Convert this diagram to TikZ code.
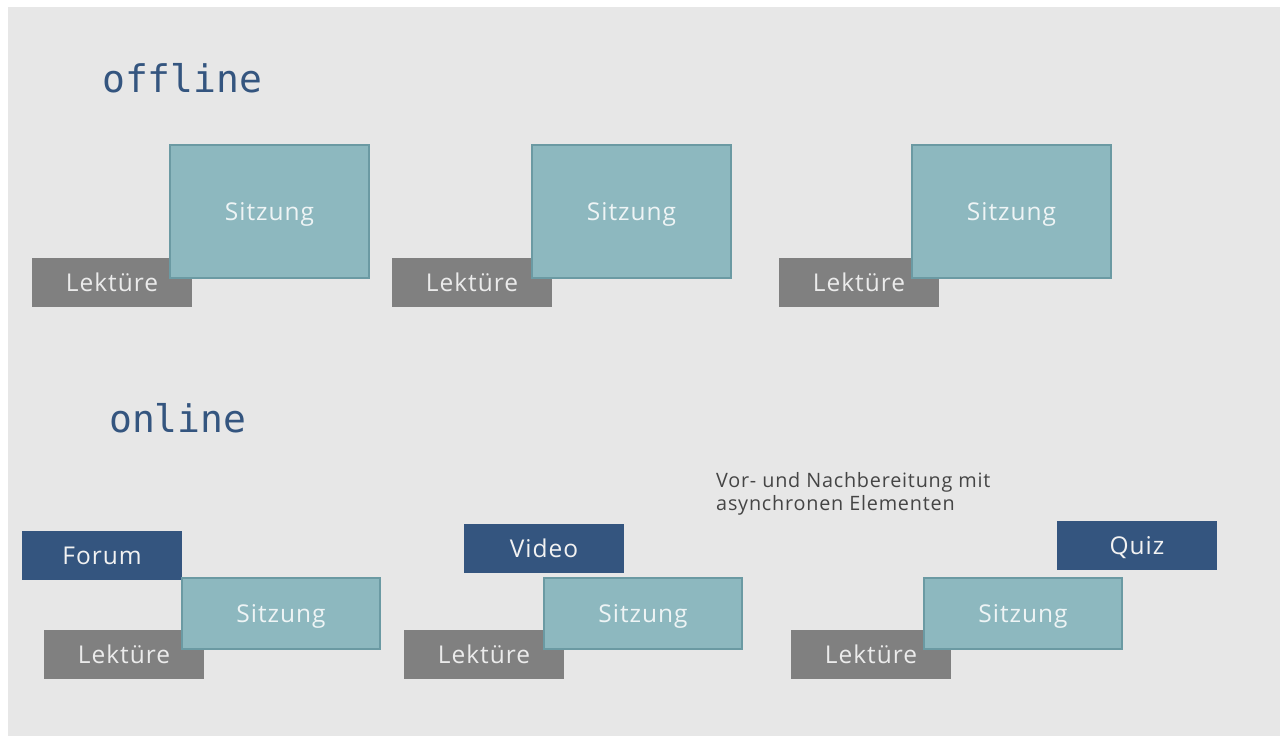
\documentclass[tikz,border=0pt]{standalone}
\usepackage{fontspec}
\setmainfont{Open Sans}
\setmonofont{DejaVu Sans Mono}
\newfontfamily\boxfont[LetterSpace=4]{Open Sans}
\definecolor{slidebg}{HTML}{E7E7E7}
\definecolor{sitzfill}{HTML}{8DB8BF}
\definecolor{sitzline}{HTML}{6B9AA3}
\definecolor{lektgray}{HTML}{808080}
\definecolor{extrablue}{HTML}{34557F}
\definecolor{notegray}{HTML}{454545}
\tikzset{
  box/.style={inner sep=0pt, text height=18.5pt, text depth=0pt,
    font=\boxfont\fontsize{24.5}{24.5}\selectfont},
  sitz/.style={box, fill=sitzfill, draw=sitzline, line width=1.5pt, text=sitzlabel},
  lekt/.style={box, fill=lektgray, minimum width=160pt, minimum height=49pt, text=white!92!black},
  extra/.style={box, fill=extrablue, minimum width=160pt, minimum height=49pt, text=white!95!black},
  heading/.style={anchor=base west, inner sep=0pt, text=extrablue,
    font=\ttfamily\fontsize{38}{38}\selectfont},
}
\colorlet{sitzlabel}{white!85!sitzfill}

\begin{document}
\begin{tikzpicture}[x=1pt,y=-1pt]
\fill[white] (0,0) rectangle (1282,736);
\fill[slidebg] (8,7) rectangle (1280,736);
\useasboundingbox (0,0) rectangle (1282,736);

% offline
\node[heading] (offline) at (102,92) {offline};
\node[lekt] (lekt1) at (112,282.5) {Lektüre};
\node[sitz, minimum width=199pt, minimum height=133pt] (sitz1) at (269.5,211.5) {Sitzung};
\node[lekt] (lekt2) at (472,282.5) {Lektüre};
\node[sitz, minimum width=199pt, minimum height=133pt] (sitz2) at (631.5,211.5) {Sitzung};
\node[lekt] (lekt3) at (859,282.5) {Lektüre};
\node[sitz, minimum width=199pt, minimum height=133pt] (sitz3) at (1011.5,211.5) {Sitzung};

% online
\node[heading] (online) at (109,432) {online};
\node[anchor=north west, inner sep=0pt, align=left, text=notegray,
  font=\boxfont\fontsize{19.8}{23.5}\selectfont] (note) at (716,472) {Vor- und Nachbereitung mit\\asynchronen Elementen};

\node[extra] (forum) at (102,555.5) {Forum};
\node[lekt] (lekt4) at (124,654.5) {Lektüre};
\node[sitz, minimum width=198pt, minimum height=71pt] (sitz4) at (281,613.5) {Sitzung};

\node[extra] (video) at (544,548.5) {Video};
\node[lekt] (lekt5) at (484,654.5) {Lektüre};
\node[sitz, minimum width=198pt, minimum height=71pt] (sitz5) at (643,613.5) {Sitzung};

\node[extra] (quiz) at (1137,545.5) {Quiz};
\node[lekt] (lekt6) at (871,654.5) {Lektüre};
\node[sitz, minimum width=198pt, minimum height=71pt] (sitz6) at (1023,613.5) {Sitzung};
\end{tikzpicture}
\end{document}
